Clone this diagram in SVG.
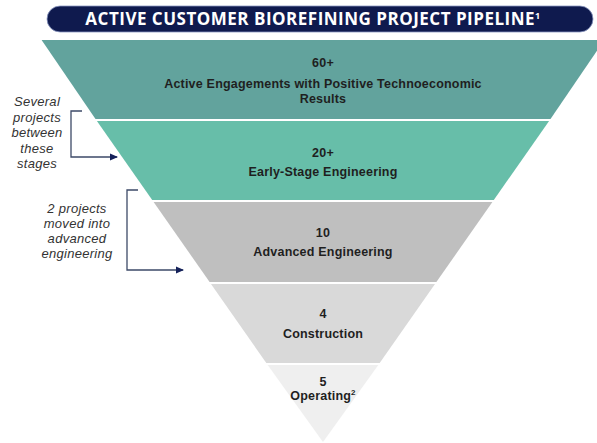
<svg xmlns="http://www.w3.org/2000/svg" width="597" height="443" viewBox="0 0 597 443">
  <style>
    .title { font-family: "Open Sans", "Liberation Sans", sans-serif; font-weight: 700; font-size: 17px; letter-spacing: 0.5px; fill: #ffffff; }
    .lbl { font-family: "Liberation Sans", Arial, sans-serif; font-weight: 700; font-size: 12.5px; letter-spacing: 0.2px; fill: #1f1f1f; text-anchor: middle; }
    .note { font-family: "Liberation Sans", Arial, sans-serif; font-style: italic; font-size: 13px; letter-spacing: 0.3px; fill: #333333; text-anchor: middle; }
    .brk { fill: none; stroke: #3d4a68; stroke-width: 1.3; }
  </style>
  <defs>
    <marker id="arrow" markerWidth="8" markerHeight="8" refX="7" refY="4" orient="auto" markerUnits="userSpaceOnUse">
      <path d="M0,0.5 L8,4 L0,7.5 Z" fill="#15215a"/>
    </marker>
  </defs>

  <rect width="597" height="443" fill="#ffffff"/>

  <!-- header banner -->
  <g id="header">
    <rect x="47" y="6" width="546" height="26" rx="13" fill="#0f1a4e" stroke="#8b98c2" stroke-width="0.8"/>
    <text class="title" x="313" y="25" text-anchor="middle">ACTIVE CUSTOMER BIOREFINING PROJECT PIPELINE<tspan font-size="9" dy="-6">1</tspan></text>
  </g>

  <!-- funnel stages: apex (323,442), half-width = 0.70 * (442 - y) -->
  <g id="stage-engagements">
    <polygon points="41.6,40 604.4,40 550.5,119 95.5,119" fill="#62a39d"/>
    <text class="lbl" x="323" y="67">60+</text>
    <text class="lbl" x="323" y="88">Active Engagements with Positive Technoeconomic</text>
    <text class="lbl" x="323" y="103">Results</text>
  </g>
  <g id="stage-early">
    <polygon points="96.9,121 549.1,121 493.8,200 152.2,200" fill="#67bea9"/>
    <text class="lbl" x="323" y="157">20+</text>
    <text class="lbl" x="323" y="176">Early-Stage Engineering</text>
  </g>
  <g id="stage-advanced">
    <polygon points="153.6,202 492.4,202 436.4,282 209.6,282" fill="#bfbfbf"/>
    <text class="lbl" x="323" y="237">10</text>
    <text class="lbl" x="323" y="256">Advanced Engineering</text>
  </g>
  <g id="stage-construction">
    <polygon points="211,284 435,284 379.7,363 266.3,363" fill="#d9d9d9"/>
    <text class="lbl" x="323" y="318">4</text>
    <text class="lbl" x="323" y="338">Construction</text>
  </g>
  <g id="stage-operating">
    <polygon points="267.7,365 378.3,365 323,442" fill="#efefef"/>
    <text class="lbl" x="323" y="386">5</text>
    <text class="lbl" x="323" y="400">Operating<tspan font-size="8" dy="-5">2</tspan></text>
  </g>

  <!-- side notes -->
  <g id="note-between">
    <text class="note" x="37" y="106">Several</text>
    <text class="note" x="37" y="121.5">projects</text>
    <text class="note" x="37" y="137">between</text>
    <text class="note" x="37" y="152.5">these</text>
    <text class="note" x="37" y="168">stages</text>
  </g>
  <g id="note-advanced">
    <text class="note" x="77" y="213">2 projects</text>
    <text class="note" x="77" y="228">moved into</text>
    <text class="note" x="77" y="243">advanced</text>
    <text class="note" x="77" y="258">engineering</text>
  </g>

  <!-- bracket connectors -->
  <g id="connectors">
    <path class="brk" d="M82,111 H71 V157 H117" marker-end="url(#arrow)"/>
    <path class="brk" d="M138,190 H127 V270 H183" marker-end="url(#arrow)"/>
  </g>
</svg>
